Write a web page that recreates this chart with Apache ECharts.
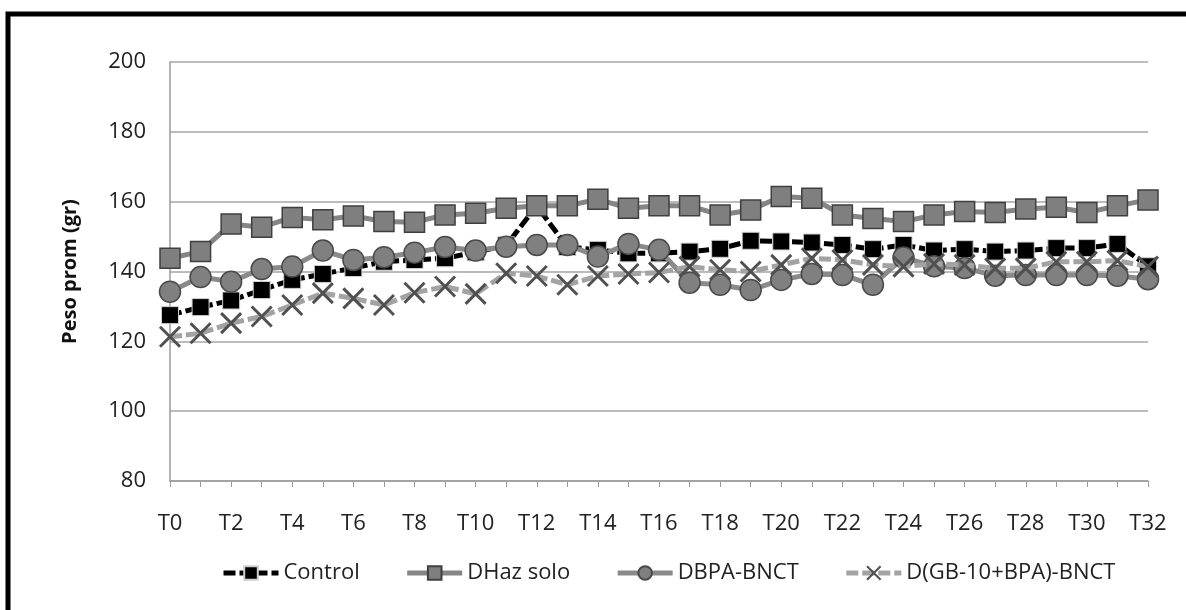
<!DOCTYPE html>
<html>
<head>
<meta charset="utf-8">
<title>Peso prom</title>
<script src="https://cdn.jsdelivr.net/npm/echarts@6/dist/echarts.min.js"></script>
<style>
  html, body { margin: 0; padding: 0; background: #fff; }
  #main { width: 1186px; height: 610px; }
</style>
</head>
<body>
<div id="main"></div>
<script>
var categories = ['T0','T1','T2','T3','T4','T5','T6','T7','T8','T9','T10','T11','T12','T13','T14','T15','T16',
  'T17','T18','T19','T20','T21','T22','T23','T24','T25','T26','T27','T28','T29','T30','T31','T32'];

var control = [127.5,129.8,131.7,134.7,137.6,139.3,141,142.8,143.3,143.8,145.5,147.5,158.8,147,146.2,145.2,145.2,
  145.7,146.5,148.8,148.6,148.3,147.6,146.4,147.6,146,146.4,145.7,146,146.7,146.7,147.9,141.5];
var dhazSolo = [143.8,145.7,153.6,152.7,155.5,154.8,155.9,154.3,154.1,156.2,156.7,158.1,158.8,158.8,160.7,158.1,158.8,
  158.8,156.2,157.6,161.5,161,156.2,155.2,154.3,156.2,157.2,156.9,157.9,158.4,156.9,158.8,160.5];
var dbpa = [134.2,138.4,137.1,140.7,141.4,146,143.3,144.1,145.4,147,146,147.1,147.6,147.6,144.3,147.9,146.2,
  136.8,136.2,134.7,137.6,139.3,139,136.2,144,141.5,141,138.8,139,139,139,138.8,137.8];
var dgb = [121.3,122.3,125.2,127.1,130.4,133.8,132.3,130.4,133.9,135.7,133.6,139.5,138.7,136.2,138.7,139.3,139.7,
  141.4,140.5,140,141.9,143.8,143.3,141.9,141.4,142.2,141.9,140.9,140.9,142.8,142.8,143.1,141.4];

var seriesNames = ['Control', 'DHaz solo', 'DBPA-BNCT', 'D(GB-10+BPA)-BNCT'];

var font = 'Open Sans';
var xMark = 'path://M0,0L10,10M10,0L0,10';

var myChart = echarts.init(document.getElementById('main'));
var option = {
  animation: false,
  backgroundColor: '#fff',
  textStyle: { fontFamily: font },
  graphic: [{
    type: 'rect',
    shape: { x: 8, y: 14, width: 1200, height: 620 },
    style: { fill: 'none', stroke: '#000', lineWidth: 5 }
  }],
  grid: { left: 170, right: 38, top: 62, bottom: 129 },
  legend: {
    left: 216,
    top: 557,
    itemWidth: 55,
    itemHeight: 17,
    itemGap: 45,
    lineStyle: { width: 5 },
    textStyle: { fontFamily: font, fontSize: 22, color: '#222' },
    data: seriesNames
  },
  xAxis: {
    type: 'category',
    data: categories,
    boundaryGap: false,
    axisLine: { lineStyle: { color: '#9a9a9a', width: 1.5 } },
    axisTick: { show: true, interval: 0, length: 6, lineStyle: { color: '#9a9a9a' } },
    axisLabel: { interval: 1, fontFamily: font, fontSize: 22, color: '#222', margin: 32 },
    splitLine: { show: false }
  },
  yAxis: {
    type: 'value',
    min: 80,
    max: 200,
    interval: 20,
    name: 'Peso prom (gr)',
    nameLocation: 'middle',
    nameGap: 90,
    nameTextStyle: { fontFamily: font, fontSize: 20, fontWeight: 'bold', color: '#111' },
    axisLine: { show: true, lineStyle: { color: '#9a9a9a', width: 1.5 } },
    axisTick: { show: false },
    axisLabel: { fontFamily: font, fontSize: 22, color: '#222', margin: 24 },
    splitLine: { lineStyle: { color: '#a6a6a6', width: 1.5 } }
  },
  series: [{
    name: seriesNames[0],
    type: 'line',
    data: control,
    showAllSymbol: true,
    symbol: 'rect',
    symbolSize: 17,
    z: 2,
    lineStyle: { color: '#000', width: 5, type: [12, 4] },
    itemStyle: { color: '#000', borderColor: '#cfcfcf', borderWidth: 1 }
  }, {
    name: seriesNames[1],
    type: 'line',
    data: dhazSolo,
    showAllSymbol: true,
    symbol: 'rect',
    symbolSize: 20,
    z: 3,
    lineStyle: { color: '#858585', width: 5 },
    itemStyle: { color: '#7f7f7f', borderColor: '#3f3f3f', borderWidth: 1.5 }
  }, {
    name: seriesNames[2],
    type: 'line',
    data: dbpa,
    showAllSymbol: true,
    symbol: 'circle',
    symbolSize: 21,
    z: 4,
    lineStyle: { color: '#8a8a8a', width: 5 },
    itemStyle: { color: '#808080', borderColor: '#4a4a4a', borderWidth: 1.5 }
  }, {
    name: seriesNames[3],
    type: 'line',
    data: dgb,
    showAllSymbol: true,
    symbol: xMark,
    symbolSize: 20,
    z: 5,
    lineStyle: { color: '#a3a3a3', width: 5, type: [12, 4] },
    itemStyle: { color: 'none', borderColor: '#505050', borderWidth: 3 }
  }]
};
myChart.setOption(option);
</script>
</body>
</html>
